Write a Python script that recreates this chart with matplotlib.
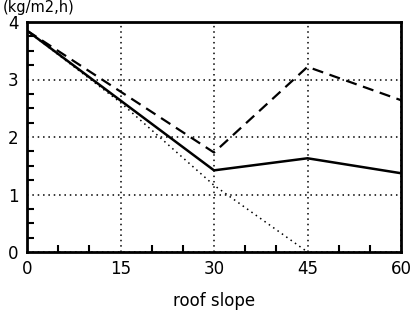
import matplotlib.pyplot as plt
from matplotlib.ticker import MultipleLocator

slope = [0, 30, 45, 60]
solid_vals = [3.85, 1.42, 1.63, 1.37]
dashed_vals = [3.85, 1.73, 3.22, 2.64]

dot_slope = [0, 15, 30, 45]
dotted_vals = [3.85, 2.6, 1.16, 0.0]

fig = plt.figure(figsize=(4.16, 3.16), dpi=100)
ax = fig.add_axes([27 / 416, 1 - 252 / 316, 374 / 416, 230 / 316])

ax.plot(slope, solid_vals, color="black", linewidth=1.8)
ax.plot(slope, dashed_vals, color="black", linewidth=1.6,
        linestyle=(0, (5, 3)))
ax.plot(dot_slope, dotted_vals, color="black", linewidth=1.1,
        linestyle=(0, (1, 2.5)))

ax.set_xlim(0, 60)
ax.set_ylim(0, 4)
ax.set_xticks([0, 15, 30, 45, 60])
ax.set_yticks([0, 1, 2, 3, 4])
ax.xaxis.set_minor_locator(MultipleLocator(5))
ax.yaxis.set_minor_locator(MultipleLocator(0.25))
ax.tick_params(which="both", direction="in", top=False, right=False)
ax.tick_params(which="major", length=0, labelsize=12, pad=6)
ax.tick_params(which="minor", length=5, width=1.5)

ax.grid(True, which="major", color="black", linestyle=(0, (1, 2.5)),
        linewidth=1.1)

for s in ax.spines.values():
    s.set_linewidth(2)

ax.set_xlabel("roof slope", fontsize=12, labelpad=10)
fig.text(3 / 416, 1.0, "(kg/m2,h)", fontsize=10.5,
         ha="left", va="top")

fig.savefig("out.png", dpi=100)
